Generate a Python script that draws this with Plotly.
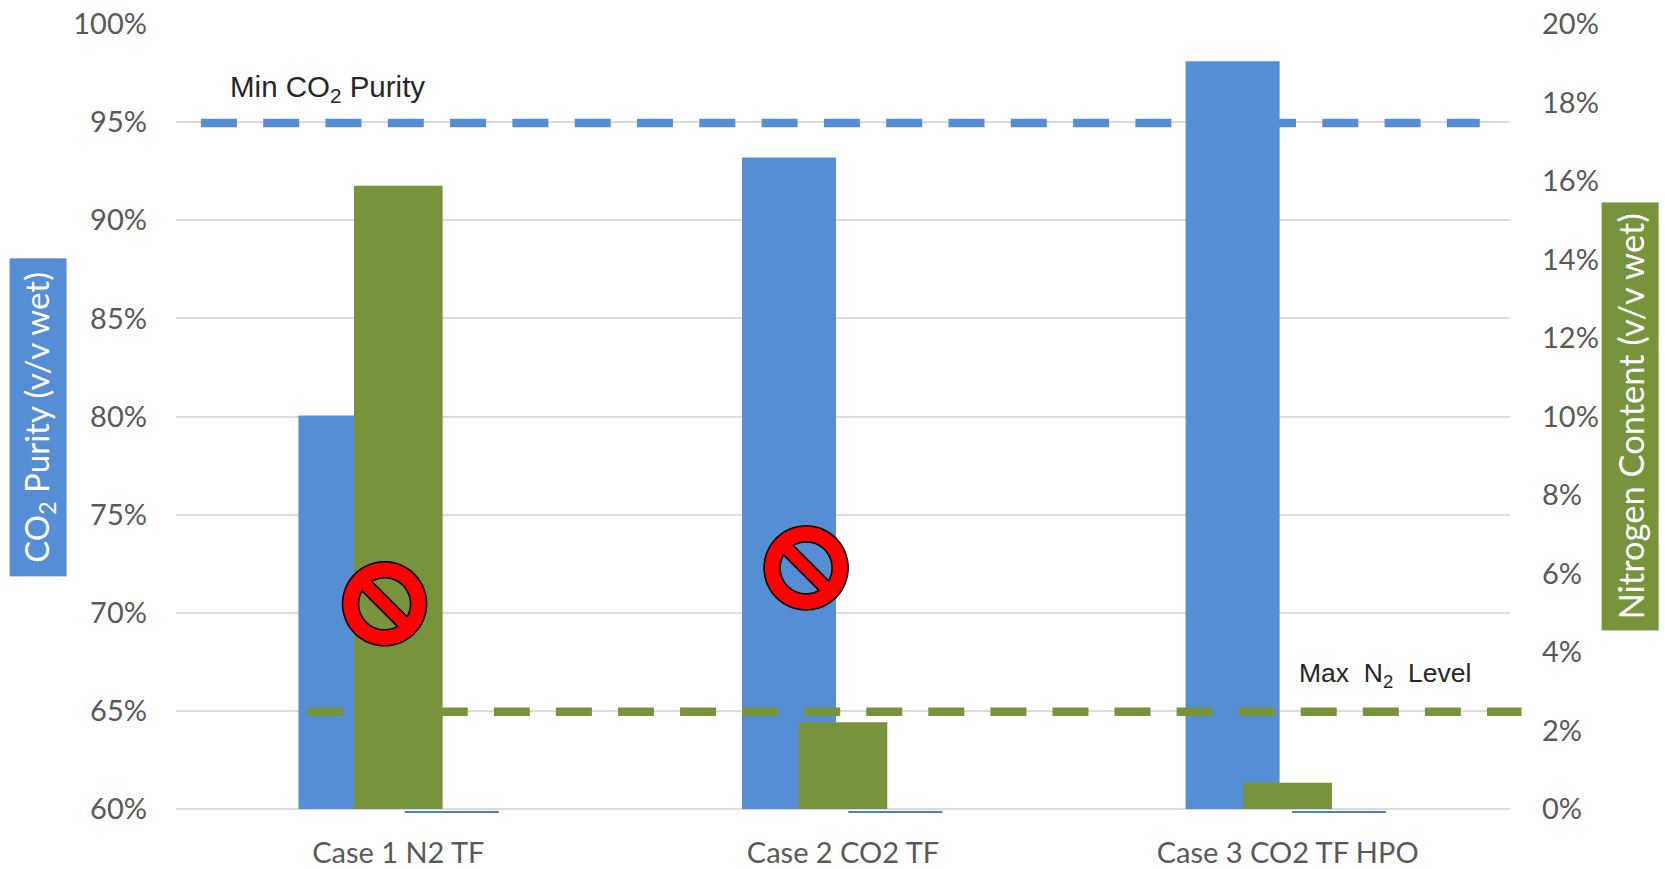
import numpy as np
import plotly.graph_objects as go

# Chart data
categories = ["Case 1 N2 TF", "Case 2 CO2 TF", "Case 3 CO2 TF HPO"]
category_pos = [0, 1, 2]
co2_purity = [80.05, 93.2, 98.1]
co2_purity_alt = [59.9, 59.9, 59.9]
nitrogen_content = [15.88, 2.21, 0.67]
min_co2_x = [-0.444, 2.432]
min_co2_y = [94.95, 94.95]
max_n2_x = [-0.204, 2.526]
max_n2_y = [2.48, 2.48]
left_ticks = [60, 65, 70, 75, 80, 85, 90, 95, 100]
left_tick_labels = ["60%", "65%", "70%", "75%", "80%", "85%", "90%", "95%", "100%"]
right_ticks = [0, 2, 4, 6, 8, 10, 12, 14, 16, 18, 20]
right_tick_labels = ["0%", "2%", "4%", "6%", "8%", "10%", "12%", "14%", "16%", "18%", "20%"]
rejected_x = [-0.031, 0.917]
rejected_y = [70.46, 72.29]

BLUE = "#558ED5"
GREEN = "#77933C"
GRID = "#DCDCDC"
TICK = "#595959"

W, H = 1665, 869
# The value axes run slightly past their lowest tick so the flat series below it shows
L, R, T, B = 176.3, 155, 24.0, 56.4
plot_w = W - L - R
plot_h = H - T - B
X_RANGE = [-0.5, 2.5]
PURITY_FLOOR = 60
ALT_BASE = 59.82
blue_offsets = [-0.2247, -0.2271, -0.2295]
blue_alt_offsets = [0.0144, 0.0120, 0.0096]


def paper_x(px):
    return (px - L) / plot_w


def paper_y(py):
    return 1 - (py - T) / plot_h


def prohibition_path(outer=42, inner=26, half_bar=6.8):
    """Disc with two circular-segment holes, in pixels around its anchor."""
    t = np.linspace(0, 2 * np.pi, 96, endpoint=False)
    parts = ["M" + " L".join(f"{outer * np.cos(a):.2f},{outer * np.sin(a):.2f}" for a in t) + " Z"]
    # Segments lie on either side of a bar running from upper left to lower right
    reach = np.arccos(half_bar / inner)
    for mid in (np.pi / 4, 5 * np.pi / 4):
        arc = np.linspace(mid - reach, mid + reach, 48)
        parts.append("M" + " L".join(f"{inner * np.cos(a):.2f},{inner * np.sin(a):.2f}" for a in arc) + " Z")
    return " ".join(parts)


fig = go.Figure()

# Purity bars rise from the 60% floor of the left axis
fig.add_bar(x=category_pos, y=[v - PURITY_FLOOR for v in co2_purity], base=PURITY_FLOOR, width=0.2114,
            offset=blue_offsets, marker=dict(color=BLUE, line=dict(width=0)), yaxis="y")
fig.add_bar(x=category_pos, y=[v - ALT_BASE for v in co2_purity_alt], base=ALT_BASE, width=0.2114,
            offset=blue_alt_offsets, marker=dict(color="#4F81BD", line=dict(width=0)), yaxis="y")
fig.add_scatter(x=min_co2_x, y=min_co2_y, mode="lines", yaxis="y",
                line=dict(color=BLUE, width=8.5, dash="36px,26.3px"))
fig.add_bar(x=category_pos, y=nitrogen_content, width=0.1993, offset=-0.0997,
            marker=dict(color=GREEN, line=dict(width=0)), yaxis="y2")
fig.add_scatter(x=max_n2_x, y=max_n2_y, mode="lines", yaxis="y2",
                line=dict(color=GREEN, width=8.5, dash="36px,26.07px"))

# Prohibition signs over the rejected cases
shapes = [
    dict(type="path", layer="above", xref="x", yref="y", xsizemode="pixel", ysizemode="pixel",
         xanchor=cx, yanchor=cy, path=prohibition_path(), fillcolor="#FF0000",
         fillrule="evenodd", line=dict(color="#000000", width=1.6))
    for cx, cy in zip(rejected_x, rejected_y)
]
# The last nitrogen dash runs on past the plot edge
shapes.append(dict(type="line", layer="above", xref="paper", yref="y2",
                   x0=1.0, x1=(max_n2_x[1] - X_RANGE[0]) / (X_RANGE[1] - X_RANGE[0]),
                   y0=max_n2_y[1], y1=max_n2_y[1], line=dict(color=GREEN, width=8.5)))

annotations = [
    dict(text="Min CO<sub>2</sub> Purity", xref="paper", yref="paper", x=paper_x(228.5), y=paper_y(88),
         xanchor="left", yanchor="middle", showarrow=False,
         font=dict(family="Liberation Sans", size=29.5, color="#262626")),
    dict(text="Max&nbsp; N<sub>2</sub>&nbsp; Level", xref="paper", yref="paper", x=paper_x(1297), y=paper_y(675),
         xanchor="left", yanchor="middle", showarrow=False,
         font=dict(family="Liberation Sans", size=26.5, color="#262626")),
    dict(text="CO<sub>2</sub> Purity (v/v wet)", xref="paper", yref="paper", x=paper_x(38.3), y=paper_y(416.7),
         xanchor="center", yanchor="middle", textangle=-90, showarrow=False, width=315, height=54,
         bgcolor=BLUE, font=dict(family="Lato", size=33, color="#FFFFFF")),
    dict(text="Nitrogen Content (v/v wet)", xref="paper", yref="paper", x=paper_x(1630.5), y=paper_y(416.2),
         xanchor="center", yanchor="middle", textangle=-90, showarrow=False, width=425, height=54,
         bgcolor=GREEN, font=dict(family="Lato", size=34.5, color="#FFFFFF")),
]

tick_font = dict(family="Lato", size=29, color=TICK)
fig.update_layout(
    width=W, height=H, autosize=False, showlegend=False, barmode="overlay",
    margin=dict(l=L, r=R, t=T, b=B, pad=0),
    paper_bgcolor="#FFFFFF", plot_bgcolor="#FFFFFF",
    shapes=shapes, annotations=annotations,
    xaxis=dict(range=X_RANGE, tickmode="array", tickvals=category_pos, ticktext=categories,
               showgrid=False, zeroline=False, showline=False, ticks="", tickfont=tick_font,
               ticklabelstandoff=20, automargin=False),
    yaxis=dict(range=[59.8, 100], tickmode="array", tickvals=left_ticks, ticktext=left_tick_labels,
               showgrid=True, gridcolor=GRID, gridwidth=1.5, zeroline=False, showline=False,
               ticks="", tickfont=tick_font, ticklabelstandoff=28, automargin=False),
    yaxis2=dict(range=[-0.1, 20], overlaying="y", side="right", tickmode="array", tickvals=right_ticks,
                ticktext=right_tick_labels, showgrid=False, zeroline=False, showline=False, ticks="",
                tickfont=tick_font, ticklabelstandoff=31, automargin=False),
)

fig.write_html("out.html")
